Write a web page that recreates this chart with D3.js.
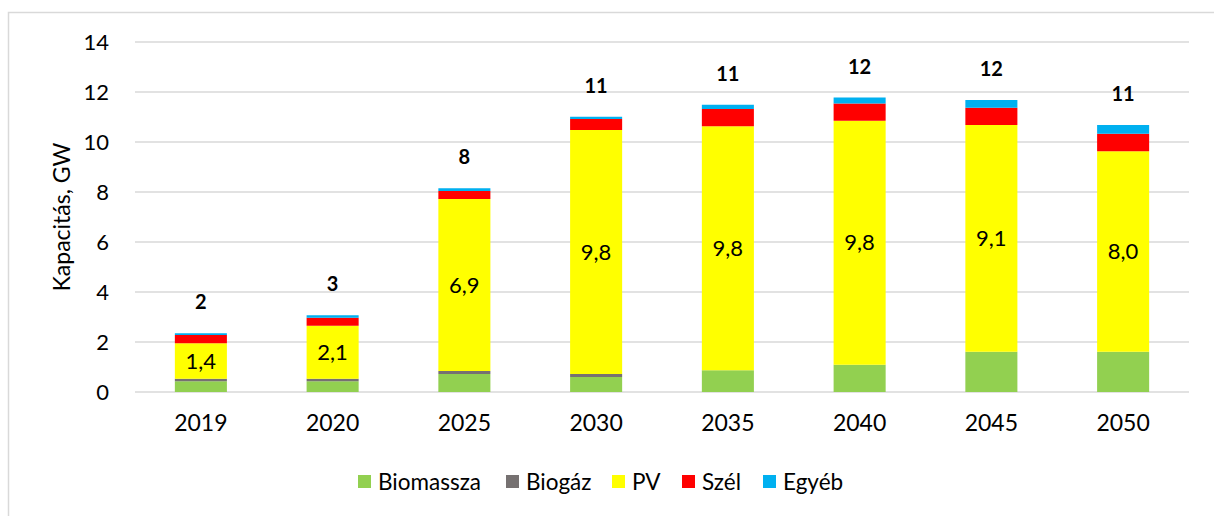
<!DOCTYPE html>
<html>
<head>
<meta charset="utf-8">
<script src="https://cdn.jsdelivr.net/npm/d3@7"></script>
<style>
  html, body { margin: 0; padding: 0; background: #fff; }
  svg { display: block; font-family: Lato, "Open Sans", sans-serif; }
</style>
</head>
<body>
<svg id="chart" width="1214" height="516"></svg>
<script>
const years = ["2019", "2020", "2025", "2030", "2035", "2040", "2045", "2050"];
const biomassza = [0.43, 0.43, 0.72, 0.60, 0.87, 1.09, 1.61, 1.61];
const biogaz    = [0.10, 0.10, 0.12, 0.12, 0.00, 0.00, 0.00, 0.00];
const pv        = [1.42, 2.12, 6.88, 9.76, 9.76, 9.76, 9.07, 8.02];
const szel      = [0.33, 0.32, 0.32, 0.44, 0.69, 0.69, 0.69, 0.70];
const egyeb     = [0.07, 0.10, 0.11, 0.09, 0.17, 0.24, 0.31, 0.35];
const seriesNames = ["Biomassza", "Biogáz", "PV", "Szél", "Egyéb"];
const seriesColors = ["#92d050", "#767171", "#ffff00", "#ff0000", "#00b0f0"];
const yTicks = [0, 2, 4, 6, 8, 10, 12, 14];
const yTitle = "Kapacitás, GW";

const seriesValues = [biomassza, biogaz, pv, szel, egyeb];
const rows = years.map((yr, i) => {
  const r = { year: yr };
  seriesNames.forEach((s, k) => r[s] = seriesValues[k][i]);
  return r;
});

const svg = d3.select("#chart");
const plotLeft = 135, plotRight = 1189, plotTop = 42, plotBottom = 392;

// outer frame
svg.append("rect").attr("x", 8.5).attr("y", 12.5).attr("width", 1220).attr("height", 520)
  .attr("fill", "none").attr("stroke", "#d9d9d9").attr("stroke-width", 1.5);

const x = d3.scaleBand().domain(years).range([plotLeft, plotRight]).paddingInner(0.605).paddingOuter(0.3025);
const y = d3.scaleLinear().domain([0, 14]).range([plotBottom, plotTop]);

// gridlines
svg.append("g").selectAll("line").data(yTicks).join("line")
  .attr("x1", plotLeft).attr("x2", plotRight)
  .attr("y1", d => y(d)).attr("y2", d => y(d))
  .attr("stroke", "#d9d9d9").attr("stroke-width", 1.5);

// y axis labels
const yAxis = svg.append("g").attr("transform", `translate(${plotLeft - 26},0)`)
  .call(d3.axisLeft(y).tickValues(yTicks).tickSize(0).tickPadding(0));
yAxis.select(".domain").remove();
yAxis.selectAll("text").attr("font-size", 22).attr("fill", "#000").attr("font-family", "Lato");

// x axis labels
const xAxis = svg.append("g").attr("transform", `translate(0,${plotBottom + 8})`)
  .call(d3.axisBottom(x).tickSize(0).tickPadding(15));
xAxis.select(".domain").remove();
xAxis.selectAll("text").attr("font-size", 23).attr("fill", "#000").attr("font-family", "Lato");

// stacked bars
const stack = d3.stack().keys(seriesNames)(rows);
svg.append("g").selectAll("g").data(stack).join("g")
  .attr("fill", (d, i) => seriesColors[i])
  .selectAll("rect").data(d => d).join("rect")
  .attr("x", d => x(d.data.year))
  .attr("width", x.bandwidth())
  .attr("y", d => y(d[1]))
  .attr("height", d => Math.max(0, y(d[0]) - y(d[1])));

// PV labels
const fmt = v => d3.format(".1f")(v).replace(".", ",");
const pvLayer = stack[2];
svg.append("g").selectAll("text").data(pvLayer).join("text")
  .attr("x", d => x(d.data.year) + x.bandwidth() / 2)
  .attr("y", d => (y(d[0]) + y(d[1])) / 2)
  .attr("dy", "0.35em")
  .attr("text-anchor", "middle")
  .attr("font-size", 22)
  .attr("fill", "#000")
  .text(d => fmt(d[1] - d[0]));

// total labels
const totals = rows.map(r => d3.sum(seriesNames, s => r[s]));
svg.append("g").selectAll("text").data(years).join("text")
  .attr("x", d => x(d) + x.bandwidth() / 2)
  .attr("y", (d, i) => y(totals[i]) - 31)
  .attr("dy", "0.35em")
  .attr("text-anchor", "middle")
  .attr("font-size", 20)
  .attr("font-weight", "bold")
  .attr("fill", "#000")
  .text((d, i) => d3.format(".0f")(totals[i]));

// y title
svg.append("text")
  .attr("transform", `translate(62,${(plotTop + plotBottom) / 2}) rotate(-90)`)
  .attr("text-anchor", "middle")
  .attr("dy", "0.35em")
  .attr("font-size", 23)
  .attr("fill", "#000")
  .text(yTitle);

// legend
const legendX = [358, 506, 612, 682, 763];
const legend = svg.append("g").selectAll("g").data(seriesNames).join("g")
  .attr("transform", (d, i) => `translate(${legendX[i]},482)`);
legend.append("rect").attr("x", 0).attr("y", -7).attr("width", 13).attr("height", 13)
  .attr("fill", (d, i) => seriesColors[i]);
legend.append("text").attr("x", 20).attr("dy", "0.35em")
  .attr("font-size", 22.5).attr("fill", "#000").text(d => d);
</script>
</body>
</html>
